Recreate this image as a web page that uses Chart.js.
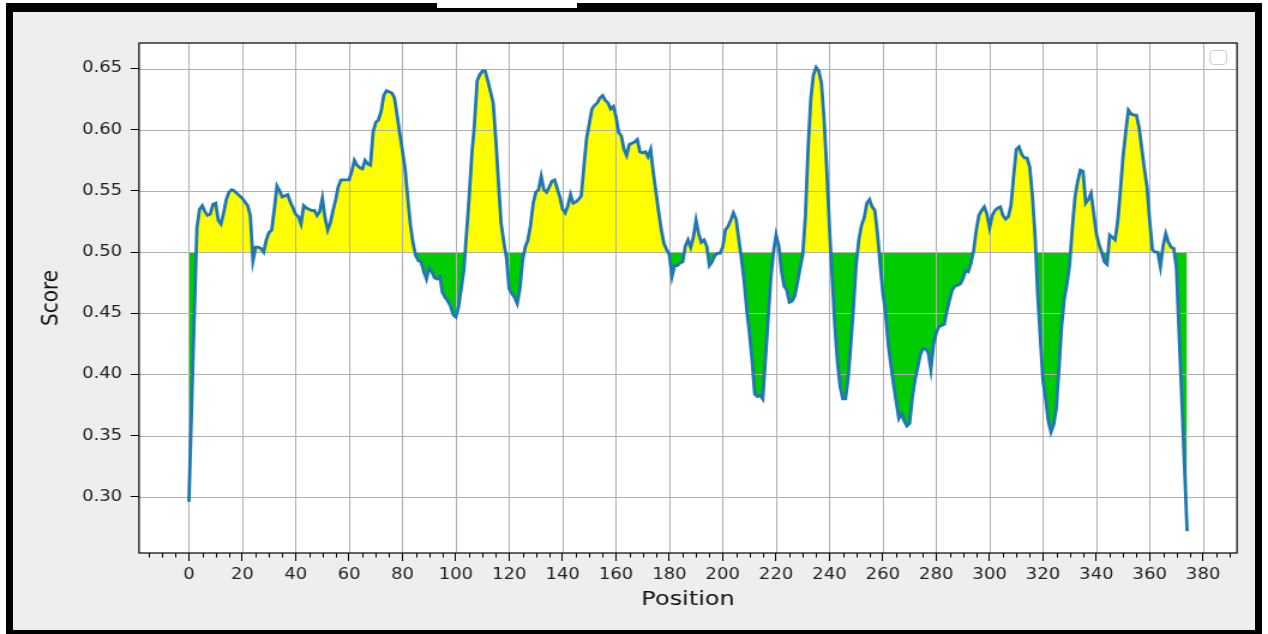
<!DOCTYPE html>
<html>
<head>
<meta charset="utf-8">
<script src="https://cdn.jsdelivr.net/npm/chart.js@4.4.0/dist/chart.umd.min.js"></script>
<style>
html,body{margin:0;padding:0;background:#ffffff;overflow:hidden;width:1268px;height:634px;}
#outer{position:absolute;left:6px;top:3px;width:1256px;height:631px;background:#000;}
#inner{position:absolute;left:13px;top:12px;width:1242px;height:618px;background:#eeeeee;}
#gap{position:absolute;left:437px;top:0px;width:140px;height:8px;background:#ffffff;}
#stretch{position:absolute;left:0;top:0;transform-origin:0 0;}
canvas{display:block;}
</style>
</head>
<body>
<div id="outer"></div>
<div id="inner"></div>
<div id="gap"></div>
<div id="stretch"><canvas id="c" width="1057" height="634"></canvas></div>
<script>
// ---------------- data ----------------
const firstPosition = 0;
const scores = [
0.296,0.372,0.448,0.520,0.535,0.538,0.533,0.530,0.531,0.539,
0.540,0.526,0.523,0.532,0.543,0.549,0.551,0.550,0.548,0.546,
0.544,0.541,0.538,0.530,0.493,0.504,0.504,0.503,0.500,0.510,
0.516,0.518,0.535,0.554,0.550,0.545,0.546,0.547,0.541,0.536,
0.531,0.529,0.523,0.538,0.536,0.535,0.534,0.534,0.530,0.533,
0.544,0.528,0.518,0.524,0.534,0.543,0.554,0.559,0.559,0.559,
0.559,0.566,0.575,0.571,0.569,0.568,0.575,0.572,0.571,0.598,
0.606,0.608,0.615,0.628,0.632,0.631,0.630,0.626,0.612,0.597,
0.583,0.568,0.544,0.522,0.507,0.497,0.493,0.492,0.484,0.478,
0.487,0.484,0.479,0.478,0.480,0.467,0.463,0.460,0.456,0.449,
0.447,0.455,0.470,0.485,0.515,0.545,0.580,0.605,0.640,0.645,
0.648,0.648,0.640,0.631,0.622,0.592,0.556,0.523,0.508,0.495,
0.470,0.466,0.463,0.458,0.470,0.493,0.504,0.510,0.522,0.540,
0.549,0.551,0.562,0.551,0.549,0.553,0.558,0.559,0.552,0.545,
0.535,0.532,0.538,0.547,0.540,0.541,0.543,0.546,0.570,0.593,
0.605,0.617,0.620,0.622,0.626,0.628,0.624,0.622,0.617,0.619,
0.611,0.598,0.595,0.584,0.579,0.588,0.589,0.590,0.592,0.582,
0.581,0.582,0.578,0.584,0.565,0.549,0.533,0.518,0.507,0.502,
0.498,0.480,0.489,0.489,0.491,0.492,0.505,0.510,0.504,0.512,
0.526,0.515,0.508,0.510,0.505,0.489,0.492,0.497,0.499,0.499,
0.504,0.518,0.521,0.526,0.532,0.527,0.511,0.495,0.477,0.453,
0.434,0.412,0.384,0.382,0.383,0.380,0.412,0.445,0.478,0.500,
0.514,0.505,0.485,0.472,0.469,0.459,0.460,0.464,0.475,0.487,
0.498,0.530,0.585,0.625,0.645,0.651,0.648,0.638,0.608,0.567,
0.520,0.480,0.440,0.410,0.390,0.380,0.380,0.397,0.425,0.455,
0.490,0.510,0.522,0.528,0.540,0.543,0.537,0.534,0.515,0.490,
0.467,0.451,0.425,0.408,0.392,0.378,0.364,0.368,0.362,0.358,
0.360,0.380,0.395,0.405,0.416,0.421,0.421,0.418,0.404,0.425,
0.434,0.439,0.440,0.441,0.452,0.461,0.469,0.472,0.473,0.474,
0.478,0.485,0.484,0.491,0.501,0.518,0.530,0.534,0.537,0.531,
0.520,0.530,0.534,0.536,0.537,0.530,0.527,0.529,0.538,0.562,
0.584,0.586,0.580,0.577,0.577,0.570,0.547,0.515,0.466,0.430,
0.395,0.380,0.362,0.353,0.359,0.372,0.405,0.440,0.462,0.474,
0.490,0.520,0.545,0.558,0.567,0.566,0.540,0.543,0.548,0.532,
0.515,0.506,0.500,0.492,0.490,0.514,0.512,0.510,0.525,0.550,
0.578,0.598,0.616,0.613,0.612,0.612,0.602,0.585,0.568,0.553,
0.525,0.502,0.500,0.500,0.488,0.505,0.515,0.508,0.504,0.503,
0.487,0.433,0.380,0.326,0.272
];
const xTickValues = [0,20,40,60,80,100,120,140,160,180,200,220,240,260,280,300,320,340,360,380];
const yTickValues = [0.30,0.35,0.40,0.45,0.50,0.55,0.60,0.65];
const xMinorStep = 5;
const threshold = 0.5;
const xTitle = 'Position';
const yTitle = 'Score';

// ---------------- layout ----------------
const W = 1057, H = 634;
const S = 1268 / W;
document.getElementById('stretch').style.transform = 'scaleX(' + S + ')';
const plotL = 139 / S, plotR = 1237 / S, plotT = 43, plotB = 553;
const FONT = "'DejaVu Sans', 'Liberation Sans', sans-serif";

const points = scores.map((v, i) => ({x: firstPosition + i, y: v}));

const decor = {
  id: 'decor',
  beforeDraw(chart) {
    const {ctx, chartArea: a} = chart;
    ctx.save();
    ctx.fillStyle = '#ffffff';
    ctx.fillRect(a.left, a.top, a.right - a.left, a.bottom - a.top);
    ctx.restore();
  },
  afterDatasetDraw(chart, args) {
    if (args.index !== 0) return;
    const {ctx, chartArea: a, scales: {x, y}} = chart;
    ctx.save();
    ctx.strokeStyle = '#b0b0b0';
    ctx.lineWidth = 1;
    ctx.beginPath();
    xTickValues.forEach(v => {
      const px = Math.round(x.getPixelForValue(v)) + 0.5;
      ctx.moveTo(px, a.top); ctx.lineTo(px, a.bottom);
    });
    yTickValues.forEach(v => {
      const py = Math.round(y.getPixelForValue(v)) + 0.5;
      ctx.moveTo(a.left, py); ctx.lineTo(a.right, py);
    });
    ctx.stroke();
    ctx.restore();
  },
  afterDraw(chart) {
    const {ctx, chartArea: a, scales: {x}} = chart;
    ctx.save();
    ctx.strokeStyle = '#000';
    ctx.lineWidth = 1;
    ctx.beginPath();
    for (let v = Math.ceil(x.min / xMinorStep) * xMinorStep; v <= x.max; v += xMinorStep) {
      if (xTickValues.includes(v)) continue;
      const px = Math.round(x.getPixelForValue(v)) + 0.5;
      ctx.moveTo(px, a.bottom); ctx.lineTo(px, a.bottom + 4.5);
    }
    ctx.stroke();
    ctx.lineWidth = 1.2;
    ctx.strokeStyle = '#000';
    ctx.strokeRect(a.left, a.top, a.right - a.left, a.bottom - a.top);
    const lx = 1210 / S, ly = 50.5, lw = 16.5 / S, lh = 14, r = 3;
    ctx.beginPath();
    ctx.moveTo(lx + r, ly);
    ctx.lineTo(lx + lw - r, ly); ctx.quadraticCurveTo(lx + lw, ly, lx + lw, ly + r);
    ctx.lineTo(lx + lw, ly + lh - r); ctx.quadraticCurveTo(lx + lw, ly + lh, lx + lw - r, ly + lh);
    ctx.lineTo(lx + r, ly + lh); ctx.quadraticCurveTo(lx, ly + lh, lx, ly + lh - r);
    ctx.lineTo(lx, ly + r); ctx.quadraticCurveTo(lx, ly, lx + r, ly);
    ctx.closePath();
    ctx.fillStyle = 'rgba(255,255,255,0.8)';
    ctx.fill();
    ctx.strokeStyle = '#cccccc';
    ctx.lineWidth = 1;
    ctx.stroke();
    ctx.restore();
  }
};

new Chart(document.getElementById('c'), {
  type: 'line',
  data: {
    datasets: [
      {
        data: points,
        order: 1,
        borderWidth: 0,
        borderColor: 'rgba(0,0,0,0)',
        pointRadius: 0,
        fill: {target: {value: threshold}, above: '#ffff00', below: '#00cc00'}
      },
      {
        data: points,
        order: 0,
        borderColor: '#1f77b4',
        borderWidth: 2.8,
        pointRadius: 0,
        tension: 0,
        fill: false
      }
    ]
  },
  options: {
    responsive: false,
    animation: false,
    devicePixelRatio: 1,
    layout: {padding: {left: 0, top: plotT, right: W - plotR, bottom: 0}},
    plugins: {legend: {display: false}, tooltip: {enabled: false}, title: {display: false}},
    scales: {
      x: {
        type: 'linear',
        min: -18.7,
        max: 392.7,
        afterBuildTicks(scale) { scale.ticks = xTickValues.map(v => ({value: v})); },
        afterFit(scale) { scale.height = H - plotB; },
        grid: {drawOnChartArea: false, drawTicks: true, tickLength: 8, tickColor: '#000', tickWidth: 1},
        border: {display: false},
        ticks: {autoSkip: false, maxRotation: 0, padding: 5, color: '#222', font: {family: FONT, size: 15},
                callback: v => String(v)},
        title: {display: true, text: xTitle, color: '#111', font: {family: FONT, size: 20}, padding: {top: 0, bottom: 22}}
      },
      y: {
        type: 'linear',
        min: 0.2541,
        max: 0.6709,
        afterBuildTicks(scale) { scale.ticks = yTickValues.map(v => ({value: v})); },
        afterFit(scale) { scale.width = plotL; },
        grid: {drawOnChartArea: false, drawTicks: true, tickLength: 7, tickColor: '#000', tickWidth: 1},
        border: {display: false},
        ticks: {padding: 7, color: '#222', font: {family: FONT, size: 15}, callback: v => v.toFixed(2)},
        title: {display: true, text: yTitle, color: '#111', font: {family: FONT, size: 20}, padding: {top: 31, bottom: 0}}
      }
    }
  },
  plugins: [decor]
});
</script>
</body>
</html>
